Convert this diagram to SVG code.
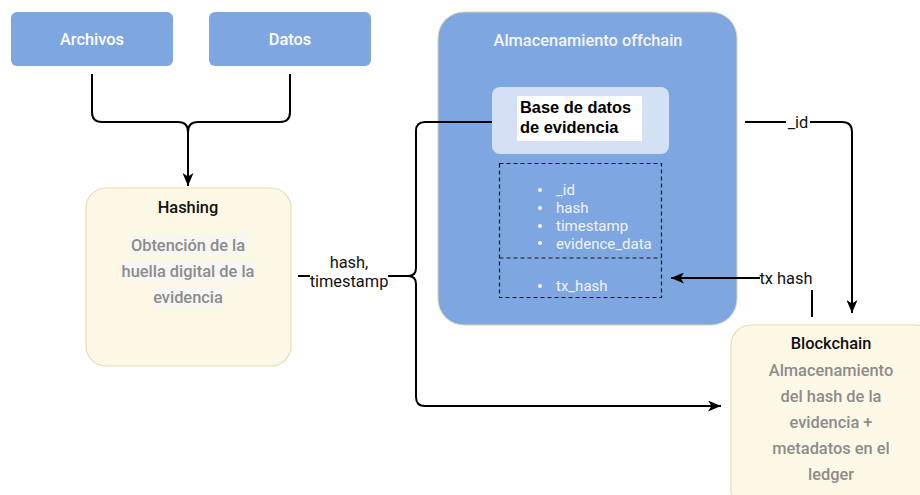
<svg xmlns="http://www.w3.org/2000/svg" width="920" height="495" viewBox="0 0 920 495">
<style>
.blue{fill:#7ea6e0;}
.cream{fill:#fdf8e6;stroke:#e6dcb3;stroke-width:1.2;}
.t{font-family:Roboto,"Liberation Sans",sans-serif;}
.wb{font-family:Roboto,"Liberation Sans",sans-serif;font-weight:500;font-size:16.4px;fill:#ffffff;text-anchor:middle;}
.title{font-family:Roboto,"Liberation Sans",sans-serif;font-weight:500;font-size:16.4px;fill:#111;text-anchor:middle;}
.gray{font-family:Roboto,"Liberation Sans",sans-serif;font-weight:500;font-size:16.4px;fill:#8c8c8c;text-anchor:middle;}
.li{font-family:Roboto,"Liberation Sans",sans-serif;font-size:15px;fill:#f2f4f8;}
.lbl{font-family:Roboto,"Liberation Sans",sans-serif;font-size:16.4px;fill:#111;text-anchor:middle;}
.edge{fill:none;stroke:#000;stroke-width:2;}
.hl{fill:#f7f6f2;}
</style>
<defs>
<marker id="arr" viewBox="0 0 13 11" refX="13" refY="5.5" markerWidth="13" markerHeight="11" orient="auto" markerUnits="userSpaceOnUse">
<path d="M0,0 L13,5.5 L0,11 L3.5,5.5 z" fill="#000"/>
</marker>
</defs>

<g id="archivos">
<rect class="blue" x="11" y="12" width="162" height="54" rx="6"/>
<text class="wb" x="92" y="45">Archivos</text>
</g>
<g id="datos">
<rect class="blue" x="209" y="12" width="162" height="54" rx="6"/>
<text class="wb" x="290" y="45">Datos</text>
</g>

<g id="hashing">
<rect class="cream" x="86" y="188" width="205" height="178" rx="20"/>
<text class="title" x="188" y="213">Hashing</text>
<rect class="hl" x="130" y="235" width="117" height="20"/>
<rect class="hl" x="122" y="261" width="133" height="20"/>
<rect class="hl" x="153" y="287" width="70" height="20"/>
<text class="gray" x="188" y="251">Obtención de la</text>
<text class="gray" x="188" y="277">huella digital de la</text>
<text class="gray" x="188" y="303">evidencia</text>
</g>

<g id="offchain">
<rect x="438" y="12" width="299" height="313" rx="26" fill="#7ea6e0" stroke="#ddd6ae" stroke-width="1"/>
<text class="t" x="588" y="46" font-size="16.4" font-weight="500" fill="#f4f6fb" text-anchor="middle">Almacenamiento offchain</text>
</g>

<g id="base-datos">
<rect x="492" y="87" width="177" height="67" rx="8" fill="#d4e1f5"/>
<rect x="517" y="96" width="125" height="45" fill="#ffffff"/>
<text x="520" y="113" font-family="'Liberation Sans',Arial,sans-serif" font-weight="bold" font-size="16.4" fill="#000">Base de datos</text>
<text x="520" y="133" font-family="'Liberation Sans',Arial,sans-serif" font-weight="bold" font-size="16.4" fill="#000">de evidencia</text>
</g>

<g id="campos">
<rect x="499.5" y="163.5" width="162" height="134" fill="none" stroke="#1a1a1a" stroke-width="1.2" stroke-dasharray="4,3"/>
<line x1="499.5" y1="258" x2="661.5" y2="258" stroke="#1a1a1a" stroke-width="1.2" stroke-dasharray="4,3"/>
<g fill="#f2f4f8">
<circle cx="540" cy="190" r="2"/>
<circle cx="540" cy="208" r="2"/>
<circle cx="540" cy="226" r="2"/>
<circle cx="540" cy="243" r="2"/>
<circle cx="540" cy="286" r="2"/>
</g>
<text class="li" x="556" y="195">_id</text>
<text class="li" x="556" y="213">hash</text>
<text class="li" x="556" y="231">timestamp</text>
<text class="li" x="556" y="249">evidence_data</text>
<text class="li" x="556" y="291">tx_hash</text>
</g>

<g id="blockchain">
<rect class="cream" x="731" y="325" width="205" height="185" rx="20"/>
<text class="title" x="831" y="349">Blockchain</text>
<text class="gray" x="831" y="376">Almacenamiento</text>
<text class="gray" x="831" y="402">del hash de la</text>
<text class="gray" x="831" y="428">evidencia +</text>
<text class="gray" x="831" y="454">metadatos en el</text>
<text class="gray" x="831" y="480">ledger</text>
</g>

<g id="connectors">
<path class="edge" d="M92,74 V112 Q92,122 102,122 H178 Q188,122 188,132 V186" marker-end="url(#arr)"/>
<path class="edge" d="M290,74 V112 Q290,122 280,122 H198 Q188,122 188,132"/>
<path class="edge" d="M298,276 H310"/>
<path class="edge" d="M388,276 H408 Q416,276 416,268 V131 Q416,122 425,122 H492"/>
<path class="edge" d="M408,276 Q416,276 416,284 V397 Q416,406 425,406 H721" marker-end="url(#arr)"/>
<path class="edge" d="M745,122 H842 Q852,122 852,132 V313" marker-end="url(#arr)"/>
<path class="edge" d="M812,317 V290"/>
<path class="edge" d="M760,278 H671" marker-end="url(#arr)"/>
<rect x="786" y="112" width="24" height="20" fill="#fff"/>
<text class="lbl" x="798" y="128">_id</text>
<rect x="760" y="268" width="52" height="20" fill="#fff"/>
<text class="lbl" x="786" y="284">tx hash</text>
<text class="lbl" x="349" y="268">hash,</text>
<text class="lbl" x="349" y="287">timestamp</text>
</g>
</svg>
